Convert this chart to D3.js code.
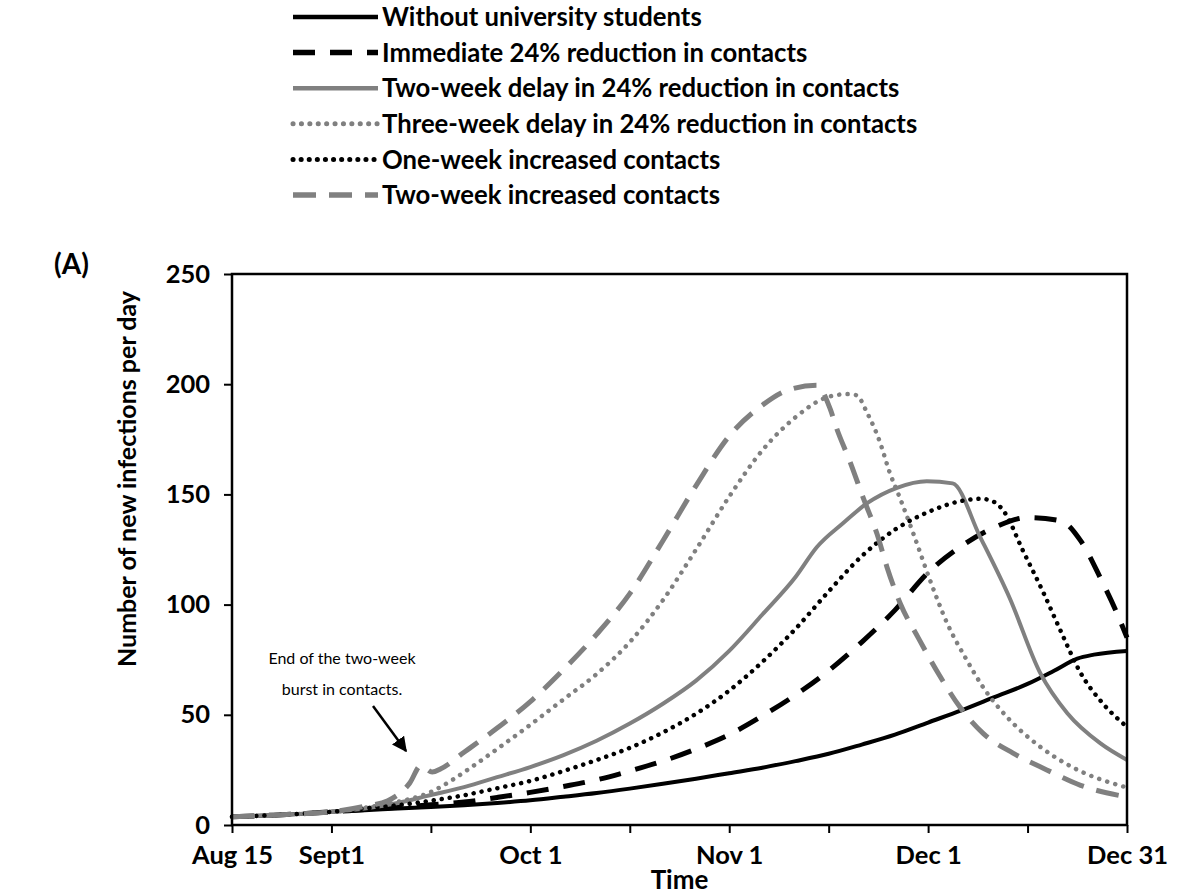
<!DOCTYPE html>
<html>
<head>
<meta charset="utf-8">
<script src="https://cdn.jsdelivr.net/npm/d3@7/dist/d3.min.js"></script>
<style>
  body { margin: 0; background: #fff; }
  svg { display: block; }
  text { font-family: Lato, "Open Sans", sans-serif; fill: #000; }
</style>
</head>
<body>
<svg id="chart" width="1182" height="894"></svg>
<script>
// x values are days since Aug 15, y values new infections per day
var withoutStudents = [[0,3.7],[5,4.3],[10,5],[15,6],[20,6.7],[25,7.5],[30,8.2],[35,9],[40,10],[45,11.2],[50,12.8],[55,14.5],[60,16.5],[65,18.7],[70,21],[75,23.5],[80,26],[85,29],[90,32.3],[95,36.5],[100,41],[105,46.5],[110,52],[115,58],[120,64],[124,70],[127.5,75.5],[130,77.3],[135,79]];
var immediateReduction = [[0,3.7],[5,4.3],[10,5],[15,6],[20,7],[25,8],[30,9.2],[35,10.4],[40,12.5],[45,14.8],[50,17.5],[55,20.5],[60,24.5],[65,29],[70,34.5],[75,41],[80,49.5],[85,59],[90,70],[95,83],[100,97.5],[105,114.5],[110,126.5],[115,135],[120,139.5],[125,138],[128,129],[131,112],[133.5,96],[135,85]];
var twoWeekDelay = [[0,3.7],[5,4.3],[10,5],[15,6],[20,7.5],[25,10],[30,13.6],[35,17.2],[40,21.7],[45,26.3],[50,31.7],[55,38.2],[60,46],[65,55],[70,65.5],[75,79],[80,95.5],[85,112.5],[88.2,126],[92.2,137],[95.8,146],[100.3,153],[104.8,156],[108.7,155],[112.8,131],[117.3,103],[121.9,69],[126,50.7],[131,37],[135,29.5]];
var threeWeekDelay = [[0,3.7],[5,4.3],[10,5],[15,6],[20,7.8],[25,10.5],[30,15],[33,20],[36,26],[40,34.5],[45,45.5],[50,57],[55,68.5],[60,83],[65,102],[70,125],[75,149],[80,170],[85,185],[89.7,194],[92.8,195.5],[94.2,195],[95.8,187],[97.7,174],[99.2,160],[100.8,148],[102.8,132],[105.3,111],[107.8,92],[110.8,75],[113.3,62.5],[116.9,49],[121.9,35.5],[126.9,26],[135,17]];
var oneWeekIncreased = [[0,3.7],[5,4.3],[10,5],[15,6],[20,7.5],[25,9],[30,11],[35,13.5],[40,16.7],[45,20],[50,24.5],[55,29.5],[60,35],[65,42],[70,50.5],[75,61],[80,74],[85,89],[90,106],[95,122],[100,134],[105,142],[110,147],[113,148],[115,146.5],[116.5,142],[119.3,124.5],[122.3,106],[125,88],[128,69],[131.4,55],[135,44.5]];
var twoWeekIncreased = [[0,3.7],[5,4.3],[10,5],[15,6],[20,8.5],[23.5,11],[26.8,19],[28.5,27],[30.2,24],[31.5,25.5],[35,33],[40,44],[45,56],[50,70.5],[55,86.5],[60,105],[65,129],[70,154],[75,176.5],[80,190.5],[84,197.5],[88.2,199.5],[90.2,189],[91.2,180],[93.2,165],[95.2,148.5],[97.3,132],[98.8,117],[100.8,100.5],[103.5,85],[106.5,69],[109.8,53.5],[113.3,41.6],[117.8,32.6],[122.9,25],[128,18],[135,12.7]];

var xTickDays = [0, 15, 30, 45, 60, 75, 90, 105, 120, 135];
var xTickLabels = ["Aug 15", "Sept1", "", "Oct 1", "", "Nov 1", "", "Dec 1", "", "Dec 31"];
var yTicks = [0, 50, 100, 150, 200, 250];

(function () {
  var series = [
    { name: "Without university students", data: withoutStudents, color: "#000", width: 4, dash: null },
    { name: "Immediate 24% reduction in contacts", data: immediateReduction, color: "#000", width: 5, dash: "22 15" },
    { name: "Two-week delay in 24% reduction in contacts", data: twoWeekDelay, color: "#808080", width: 4, dash: null },
    { name: "Three-week delay in 24% reduction in contacts", data: threeWeekDelay, color: "#808080", width: 4.5, dash: "0.1 8.3", round: true },
    { name: "One-week increased contacts", data: oneWeekIncreased, color: "#000", width: 4.5, dash: "0.1 8", round: true },
    { name: "Two-week increased contacts", data: twoWeekIncreased, color: "#808080", width: 5, dash: "23 13" }
  ];

  var svg = d3.select("#chart");
  var plotLeft = 232, plotRight = 1127, plotTop = 274, plotBottom = 825;

  var x = d3.scaleLinear().domain([0, 135]).range([plotLeft, plotRight]);
  var y = d3.scaleLinear().domain([0, 250]).range([plotBottom, plotTop]);

  // axes
  var xAxis = svg.append("g")
    .attr("transform", "translate(0," + plotBottom + ")")
    .call(d3.axisBottom(x).tickValues(xTickDays).tickSize(8).tickPadding(13)
      .tickFormat(function (d, i) { return xTickLabels[i]; }));
  var yAxis = svg.append("g")
    .attr("transform", "translate(" + plotLeft + ",0)")
    .call(d3.axisLeft(y).tickValues(yTicks).tickSize(8).tickPadding(14));

  [xAxis, yAxis].forEach(function (g) {
    g.select(".domain").remove();
    g.selectAll(".tick line").attr("stroke", "#000").attr("stroke-width", 2);
    g.selectAll("text").style("font-size", "25.5px").style("font-weight", "bold").attr("fill", "#000");
  });

  // lines
  var line = d3.line()
    .x(function (d) { return x(d[0]); })
    .y(function (d) { return y(d[1]); })
    .curve(d3.curveMonotoneX);

  series.forEach(function (s) {
    svg.append("path")
      .datum(s.data)
      .attr("d", line)
      .attr("fill", "none")
      .attr("stroke", s.color)
      .attr("stroke-width", s.width)
      .attr("stroke-dasharray", s.dash)
      .attr("stroke-linecap", s.round ? "round" : "butt")
      .attr("stroke-linejoin", "round");
  });

  // plot frame
  svg.append("rect")
    .attr("x", plotLeft).attr("y", plotTop)
    .attr("width", plotRight - plotLeft).attr("height", plotBottom - plotTop)
    .attr("fill", "none").attr("stroke", "#000").attr("stroke-width", 2.5);

  // axis titles
  svg.append("text")
    .attr("x", (plotLeft + plotRight) / 2).attr("y", 889)
    .attr("text-anchor", "middle")
    .style("font-size", "26px").style("font-weight", "bold")
    .text("Time");

  svg.append("text")
    .attr("transform", "translate(136,479) rotate(-90)")
    .attr("text-anchor", "middle")
    .style("font-size", "25px").style("font-weight", "bold")
    .text("Number of new infections per day");

  svg.append("text")
    .attr("x", 54).attr("y", 264).attr("dy", "0.35em")
    .style("font-size", "28px").style("font-weight", "bold")
    .text("(A)");

  // annotation
  var note = svg.append("text")
    .attr("text-anchor", "middle")
    .style("font-size", "16px");
  note.append("tspan").attr("x", 342).attr("y", 664).text("End of the two-week");
  note.append("tspan").attr("x", 342).attr("y", 695).text("burst in contacts.");

  svg.append("defs").append("marker")
    .attr("id", "arrow")
    .attr("viewBox", "0 0 10 10")
    .attr("refX", 9).attr("refY", 5)
    .attr("markerWidth", 6).attr("markerHeight", 6)
    .attr("orient", "auto")
    .append("path").attr("d", "M0,0L10,5L0,10z").attr("fill", "#000");

  svg.append("line")
    .attr("x1", 373).attr("y1", 706)
    .attr("x2", 406).attr("y2", 751)
    .attr("stroke", "#000").attr("stroke-width", 2.5)
    .attr("marker-end", "url(#arrow)");

  // legend
  var legend = svg.append("g");
  series.forEach(function (s, i) {
    var ly = 17 + i * 35.6;
    legend.append("line")
      .attr("x1", 293).attr("x2", 378)
      .attr("y1", ly).attr("y2", ly)
      .attr("stroke", s.color)
      .attr("stroke-width", s.width + 0.5)
      .attr("stroke-dasharray", s.dash)
      .attr("stroke-linecap", s.round ? "round" : "butt");
    legend.append("text")
      .attr("x", 382).attr("y", ly).attr("dy", "0.36em")
      .style("font-size", "25.7px").style("font-weight", "bold")
      .text(s.name);
  });
})();
</script>
</body>
</html>
